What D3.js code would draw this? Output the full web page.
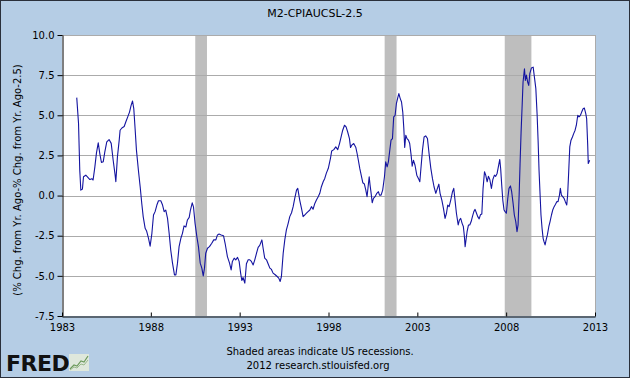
<!DOCTYPE html>
<html>
<head>
<meta charset="utf-8">
<script src="https://cdn.jsdelivr.net/npm/d3@7"></script>
<style>
  html, body { margin: 0; padding: 0; background: #fff; }
  svg { display: block; }
  text { font-family: "DejaVu Sans", Verdana, sans-serif; }
</style>
</head>
<body>
<svg id="chart" width="630" height="378"></svg>
<script>
// ---- Data ----
const chartTitle = "M2-CPIAUCSL-2.5";
const yLabel = "(% Chg. from Yr. Ago-% Chg. from Yr. Ago-2.5)";
const xTicks = [1983, 1988, 1993, 1998, 2003, 2008, 2013];
const yTicks = [-7.5, -5.0, -2.5, 0.0, 2.5, 5.0, 7.5, 10.0];
const recessionStarts = [1990.50, 2001.16, 2007.92];
const recessionEnds   = [1991.16, 2001.83, 2009.42];

// decimal-year dates of the series
const dates = [
1983.83,1983.93,1984.00,1984.06,1984.15,1984.21,1984.34,1984.43,1984.57,1984.68,1984.75,1984.85,1984.94,
1985.04,1985.13,1985.22,1985.32,1985.41,1985.52,1985.65,1985.77,1985.88,1985.99,
1986.03,1986.12,1986.22,1986.27,1986.37,1986.50,1986.59,1986.70,1986.80,1986.89,1986.97,
1987.04,1987.12,1987.19,1987.30,1987.40,1987.49,1987.57,1987.68,1987.76,1987.87,1987.96,
1988.06,1988.15,1988.24,1988.34,1988.43,1988.56,1988.66,1988.75,1988.84,1988.94,
1989.03,1989.12,1989.22,1989.33,1989.41,1989.50,1989.59,1989.69,1989.78,1989.87,1989.97,
1990.06,1990.16,1990.23,1990.33,1990.40,1990.49,1990.59,1990.68,1990.78,1990.87,1990.95,
1991.02,1991.09,1991.19,1991.30,1991.43,1991.54,1991.66,1991.75,1991.84,1991.96,
1992.09,1992.18,1992.31,1992.43,1992.52,1992.59,1992.69,1992.78,1992.88,1992.97,
1993.05,1993.12,1993.19,1993.29,1993.38,1993.48,1993.57,1993.66,1993.76,1993.85,1993.95,
1994.04,1994.13,1994.25,1994.32,1994.41,1994.51,1994.60,1994.70,1994.79,1994.88,
1995.00,1995.11,1995.20,1995.28,1995.35,1995.45,1995.54,1995.63,1995.73,1995.82,1995.92,
1996.01,1996.10,1996.20,1996.27,1996.38,1996.48,1996.57,1996.67,1996.76,1996.85,1996.95,
1997.04,1997.13,1997.23,1997.32,1997.42,1997.51,1997.60,1997.70,1997.79,1997.88,1997.99,
1998.11,1998.18,1998.30,1998.41,1998.52,1998.62,1998.71,1998.80,1998.90,1998.99,
1999.08,1999.18,1999.24,1999.31,1999.42,1999.54,1999.61,1999.68,1999.76,1999.84,1999.93,
2000.02,2000.10,2000.17,2000.23,2000.29,2000.34,2000.40,2000.46,2000.53,2000.62,2000.72,2000.81,2000.87,2000.96,
2001.05,2001.15,2001.22,2001.30,2001.37,2001.45,2001.52,2001.60,2001.67,2001.75,2001.82,2001.90,2001.96,
2002.03,2002.11,2002.18,2002.24,2002.29,2002.35,2002.42,2002.50,2002.57,2002.65,2002.71,2002.78,2002.87,2002.97,
2003.06,2003.14,2003.21,2003.29,2003.38,2003.47,2003.57,2003.66,2003.76,2003.85,2003.94,
2004.04,2004.13,2004.21,2004.28,2004.38,2004.47,2004.56,2004.64,2004.71,2004.79,2004.88,2004.98,
2005.05,2005.13,2005.20,2005.30,2005.37,2005.44,2005.52,2005.59,2005.65,2005.69,2005.74,2005.80,2005.88,2005.95,
2006.03,2006.10,2006.18,2006.25,2006.33,2006.40,2006.48,2006.55,2006.63,2006.70,2006.78,2006.85,2006.93,
2007.00,2007.08,2007.17,2007.25,2007.34,2007.41,2007.49,2007.56,2007.64,2007.69,2007.75,2007.81,2007.88,2007.94,
2008.01,2008.09,2008.16,2008.24,2008.31,2008.39,2008.46,2008.54,2008.61,2008.67,2008.73,2008.78,2008.84,2008.90,2008.95,
2009.03,2009.08,2009.14,2009.21,2009.27,2009.33,2009.42,2009.52,2009.59,2009.67,2009.74,2009.80,2009.85,2009.91,2009.96,
2010.02,2010.08,2010.13,2010.19,2010.25,2010.32,2010.40,2010.47,2010.55,2010.62,2010.70,2010.77,2010.85,2010.92,
2011.00,2011.05,2011.11,2011.18,2011.26,2011.33,2011.41,2011.46,2011.52,2011.58,2011.65,2011.73,2011.80,2011.88,2011.95,
2012.03,2012.10,2012.18,2012.25,2012.33,2012.40,2012.48,2012.53,2012.59,2012.62,2012.70
];

const values = [
6.1,4.5,1.58,0.34,0.4,1.17,1.27,1.17,1.0,1.05,0.97,1.79,2.66,
3.28,2.6,2.06,2.1,2.72,3.34,3.49,3.25,2.2,1.27,
0.86,2.41,3.45,4.07,4.21,4.3,4.58,4.9,5.2,5.62,5.89,
5.42,4.07,2.83,1.58,0.55,-0.49,-1.31,-2.04,-2.2,-2.66,-3.15,
-2.35,-1.21,-1.0,-0.59,-0.32,-0.32,-0.59,-1.0,-0.9,-1.42,
-2.35,-3.39,-4.21,-4.94,-4.94,-4.21,-3.18,-2.66,-2.35,-1.89,-1.96,
-1.52,-1.36,-0.9,-0.45,-0.7,-1.73,-2.56,-3.18,-4.21,-4.52,-5.0,
-4.52,-3.59,-3.28,-3.18,-2.97,-2.76,-2.76,-2.45,-2.4,-2.45,
-2.5,-2.97,-3.8,-4.21,-4.63,-4.1,-3.9,-4.0,-3.85,-4.1,
-4.8,-5.29,-5.1,-5.45,-4.25,-4.0,-4.0,-4.1,-4.32,-4.0,-3.59,
-3.22,-3.1,-2.76,-3.28,-3.9,-4.0,-4.25,-4.52,-4.6,-4.83,
-4.93,-5.04,-5.14,-5.35,-5.04,-3.59,-2.76,-2.14,-1.73,-1.31,-1.07,
-0.69,-0.18,0.34,0.45,-0.28,-0.8,-1.31,-1.2,-1.1,-1.0,-0.9,
-0.69,-0.85,-0.49,-0.28,-0.07,0.14,0.55,0.86,1.07,1.4,1.7,
2.31,2.78,2.86,3.03,2.86,3.24,3.65,4.07,4.38,4.28,
3.96,3.55,2.99,3.14,3.24,2.99,2.62,2.2,1.69,1.27,0.8,
0.72,0.34,-0.07,0.55,1.17,0.65,0.14,-0.45,-0.18,-0.07,0.14,0.24,0.03,0.03,
0.34,1.17,2.1,1.79,2.1,2.83,3.45,3.55,4.9,5.0,5.72,6.1,6.35,
6.07,5.83,5.2,4.17,2.99,3.76,3.55,3.45,3.24,2.52,1.83,2.2,1.89,1.27,
1.07,0.86,1.79,2.83,3.65,3.72,3.55,2.62,1.69,1.07,0.55,
0.14,0.45,0.71,0.14,-0.28,-0.8,-1.42,-1.1,-0.59,-0.69,-0.28,0.24,
0.45,-0.38,-1.1,-1.83,-1.52,-1.42,-1.73,-1.93,-2.56,-3.18,-2.76,-2.25,-1.83,-1.83,
-1.62,-1.31,-1.0,-0.86,-1.1,-1.31,-1.45,-1.2,-1.15,0.45,1.48,1.27,0.86,
1.2,1.0,0.45,1.0,1.27,1.2,1.38,1.79,2.25,1.69,0.65,-0.28,-0.9,-1.0,
-1.1,-0.18,0.45,0.6,0.24,-0.49,-1.21,-1.62,-2.25,-1.83,0.03,1.89,3.96,5.62,7.07,
7.9,7.17,7.5,7.07,6.86,7.59,7.94,8.0,7.38,6.66,5.1,3.34,1.58,0.03,-1.21,
-2.04,-2.66,-2.87,-3.07,-2.76,-2.45,-1.94,-1.62,-1.21,-0.9,-0.69,-0.55,-0.38,-0.38,
0.03,0.45,0.03,-0.07,-0.18,-0.38,-0.59,0.03,1.48,3.03,3.45,3.65,3.86,4.07,4.38,
5.0,4.9,5.0,5.2,5.41,5.45,5.1,4.79,3.14,2.0,2.2
];

// ---- Layout ----
const W = 630, H = 378;
const plot = { left: 62, right: 595, top: 35, bottom: 316 };

const svg = d3.select("#chart");

// background & outer border
svg.append("rect").attr("x", 0.5).attr("y", 0.5).attr("width", W - 1).attr("height", H - 1)
  .attr("fill", "#B5CDE5").attr("stroke", "#2a2f3a").attr("stroke-width", 1);

const x = d3.scaleLinear().domain([1983, 2013]).range([plot.left, plot.right]);
const y = d3.scaleLinear().domain([-7.5, 10]).range([plot.bottom, plot.top]);

// plot area
svg.append("rect")
  .attr("x", plot.left).attr("y", plot.top)
  .attr("width", plot.right - plot.left).attr("height", plot.bottom - plot.top)
  .attr("fill", "#ffffff");

// recession bars
const rec = recessionStarts.map((s, i) => ({ s, e: recessionEnds[i] }));
svg.append("g").selectAll("rect").data(rec).join("rect")
  .attr("x", d => x(d.s)).attr("y", plot.top)
  .attr("width", d => x(d.e) - x(d.s)).attr("height", plot.bottom - plot.top)
  .attr("fill", "#BEBEBE");

// gridlines
svg.append("g").selectAll("line").data(yTicks.filter(v => v > -7.5)).join("line")
  .attr("x1", plot.left).attr("x2", plot.right)
  .attr("y1", d => Math.round(y(d)) + 0.5).attr("y2", d => Math.round(y(d)) + 0.5)
  .attr("stroke", "#ABABAB").attr("stroke-width", 1);

// right border of plot
svg.append("line")
  .attr("x1", plot.right + 0.5).attr("x2", plot.right + 0.5)
  .attr("y1", plot.top).attr("y2", plot.bottom)
  .attr("stroke", "#ABABAB");

// series line
const data = dates.map((d, i) => ({ t: d, v: values[i] }));
svg.append("path").datum(data)
  .attr("fill", "none")
  .attr("stroke", "#1414A0")
  .attr("stroke-width", 1.1)
  .attr("stroke-linejoin", "round")
  .attr("d", d3.line().x(d => x(d.t)).y(d => y(d.v)));

// axes
const xAxis = d3.axisBottom(x).tickValues(xTicks).tickFormat(d3.format("d"))
  .tickSizeInner(-4).tickSizeOuter(0).tickPadding(7);
const gx = svg.append("g").attr("transform", `translate(0,${plot.bottom + 0.5})`).call(xAxis);
gx.select(".domain").attr("stroke", "#000");
gx.selectAll(".tick line").attr("stroke", "#000");
gx.selectAll("text").attr("font-size", 10).attr("fill", "#000")
  .attr("font-family", '"DejaVu Sans", Verdana, sans-serif');

const yAxis = d3.axisLeft(y).tickValues(yTicks).tickFormat(d => d.toFixed(1))
  .tickSizeInner(5).tickSizeOuter(0).tickPadding(3);
const gy = svg.append("g").attr("transform", `translate(${plot.left + 0.5},0)`).call(yAxis);
gy.select(".domain").attr("stroke", "#000");
gy.selectAll(".tick line").attr("stroke", "#000");
gy.selectAll("text").attr("font-size", 10).attr("fill", "#000")
  .attr("font-family", '"DejaVu Sans", Verdana, sans-serif');

// title
svg.append("text").attr("x", 315).attr("y", 17).attr("text-anchor", "middle")
  .attr("font-size", 11).attr("fill", "#000").text(chartTitle);

// y label
svg.append("text").attr("transform", "translate(21,180) rotate(-90)")
  .attr("text-anchor", "middle").attr("font-size", 10).attr("fill", "#000").text(yLabel);

// notes
svg.append("text").attr("x", 320).attr("y", 355).attr("text-anchor", "middle")
  .attr("font-size", 10).attr("fill", "#000").text("Shaded areas indicate US recessions.");
svg.append("text").attr("x", 318).attr("y", 369).attr("text-anchor", "middle")
  .attr("font-size", 10).attr("fill", "#000").text("2012 research.stlouisfed.org");

// FRED logo
svg.append("text").attr("x", 6).attr("y", 371)
  .attr("font-family", '"Liberation Sans", Arial, sans-serif')
  .attr("font-weight", "bold").attr("font-size", 22).attr("letter-spacing", -0.5)
  .attr("fill", "#111").text("FRED");
const logo = svg.append("g").attr("transform", "translate(69,354)");
logo.append("rect").attr("width", 20).attr("height", 17).attr("fill", "#dfe8dc");
logo.append("path").attr("d", "M1,15 L5,11 L8,12 L12,7 L15,8 L19,2")
  .attr("fill", "none").attr("stroke", "#6c9a5c").attr("stroke-width", 1.2);
logo.append("path").attr("d", "M1,16 L5,13 L8,14 L12,10 L15,11 L19,6")
  .attr("fill", "none").attr("stroke", "#9ab98d").attr("stroke-width", 1);
</script>
</body>
</html>
